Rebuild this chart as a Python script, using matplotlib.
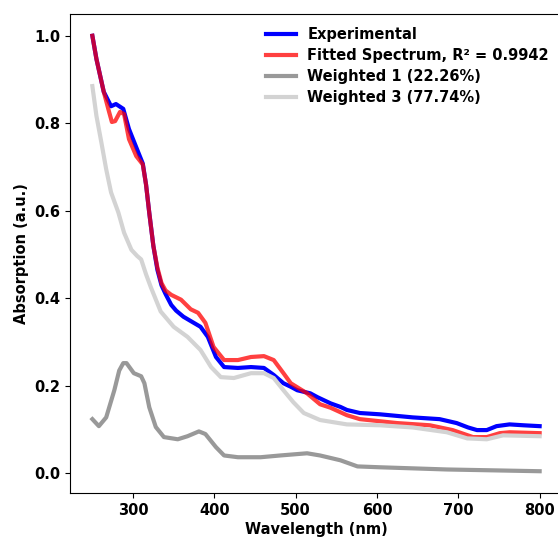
import matplotlib
matplotlib.use("Agg")
import matplotlib.pyplot as plt

plt.rcParams['font.family'] = ['DejaVu Sans']
plt.rcParams['font.weight'] = 'bold'

exp_wl = [250, 255, 264, 273, 279, 288, 295, 304, 312, 316, 320, 325, 330, 335, 340, 347, 353, 362,
          372, 383, 392, 402, 412, 429, 445, 461, 473, 485, 494, 502, 518, 527, 543, 555, 563, 579,
          604, 644, 677, 698, 712, 723, 735, 747, 763, 780, 800]
exp_val = [1.0, 0.947, 0.872, 0.839, 0.844, 0.833, 0.787, 0.745, 0.708, 0.66, 0.595, 0.52, 0.465,
           0.43, 0.41, 0.385, 0.372, 0.358, 0.347, 0.335, 0.312, 0.266, 0.243, 0.241, 0.243, 0.241,
           0.225, 0.206, 0.198, 0.190, 0.183, 0.174, 0.160, 0.152, 0.145, 0.138, 0.135, 0.128, 0.124,
           0.115, 0.105, 0.099, 0.099, 0.108, 0.112, 0.110, 0.108]

fit_wl = [250, 255, 264, 270, 274, 278, 284, 289, 295, 304, 312, 316, 320, 325, 330, 335, 340, 347,
          359, 371, 380, 389, 399, 412, 429, 445, 461, 473, 485, 494, 514, 530, 543, 563, 579, 625,
          665, 693, 718, 735, 751, 763, 800]
fit_val = [1.0, 0.947, 0.872, 0.83, 0.803, 0.805, 0.826, 0.821, 0.764, 0.725, 0.706, 0.66, 0.595,
           0.52, 0.47, 0.435, 0.418, 0.408, 0.397, 0.375, 0.367, 0.344, 0.289, 0.259, 0.259, 0.266,
           0.268, 0.259, 0.229, 0.206, 0.183, 0.158, 0.150, 0.133, 0.124, 0.115, 0.110, 0.099, 0.083,
           0.083, 0.092, 0.094, 0.092]

w1_wl = [250, 258, 267, 277, 283, 288, 292, 301, 310, 314, 320, 328, 338, 355, 367, 381, 389, 402,
         412, 429, 457, 481, 514, 530, 555, 576, 604, 686, 800]
w1_val = [0.124, 0.108, 0.128, 0.190, 0.235, 0.252, 0.252, 0.229, 0.222, 0.206, 0.151, 0.106, 0.083,
          0.078, 0.085, 0.096, 0.090, 0.060, 0.041, 0.037, 0.037, 0.041, 0.046, 0.041, 0.030, 0.016,
          0.014, 0.009, 0.005]

w3_wl = [250, 255, 261, 267, 273, 282, 289, 298, 305, 310, 316, 322, 334, 350, 367, 383, 396, 408,
         424, 445, 461, 473, 485, 497, 510, 530, 563, 604, 644, 686, 711, 735, 755, 800]
w3_val = [0.885, 0.817, 0.757, 0.695, 0.642, 0.596, 0.55, 0.511, 0.497, 0.489, 0.455, 0.425, 0.37,
          0.335, 0.312, 0.282, 0.243, 0.220, 0.218, 0.229, 0.229, 0.218, 0.190, 0.163, 0.138, 0.122,
          0.112, 0.110, 0.105, 0.094, 0.080, 0.078, 0.087, 0.085]

labels = ['Experimental', 'Fitted Spectrum, R\u00b2 = 0.9942', 'Weighted 1 (22.26%)', 'Weighted 3 (77.74%)']

FS = 10.5

fig = plt.figure(figsize=(5.58, 5.37), dpi=100)
ax = fig.add_axes([70/558, 1 - 493/537, (562 - 70)/558, (493 - 14)/537])

ax.plot(exp_wl, exp_val, color='blue', lw=3, label=labels[0])
ax.plot(fit_wl, fit_val, color='red', alpha=0.75, lw=3, label=labels[1])
ax.plot(w1_wl, w1_val, color='#999999', lw=3, label=labels[2])
ax.plot(w3_wl, w3_val, color='#d3d3d3', lw=3, label=labels[3])

ax.set_xticks([300, 400, 500, 600, 700, 800])
ax.set_yticks([0.0, 0.2, 0.4, 0.6, 0.8, 1.0])
ax.tick_params(labelsize=FS)
for t in ax.get_xticklabels() + ax.get_yticklabels():
    t.set_fontweight('bold')
ax.set_xlabel('Wavelength (nm)', fontsize=FS, fontweight='bold', labelpad=3)
ax.set_ylabel('Absorption (a.u.)', fontsize=FS, fontweight='bold')

leg = ax.legend(loc='upper right', frameon=False, prop={'weight': 'bold', 'size': FS},
                labelspacing=0.4)

fig.savefig('out.png', dpi=100)
